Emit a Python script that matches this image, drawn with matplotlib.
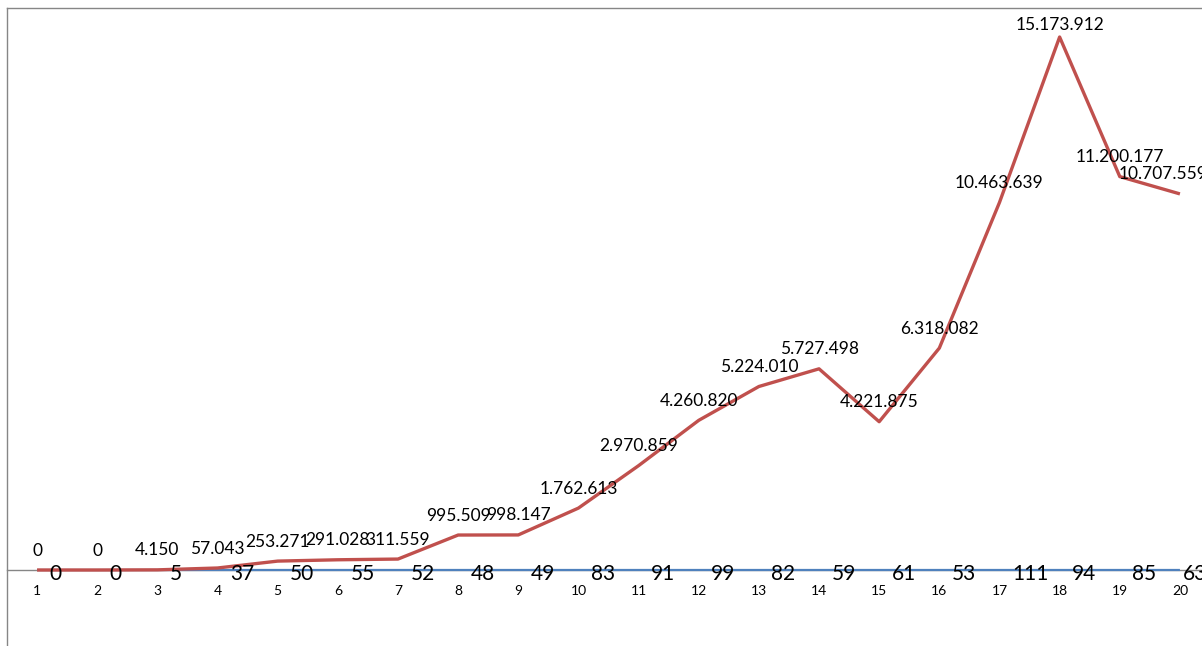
import matplotlib
matplotlib.use("Agg")
import matplotlib.pyplot as plt

# categories and the two series
CATS = list(range(1, 21))
RED = [0, 0, 4150, 57043, 253271, 291028, 311559, 995509, 998147, 1762613,
       2970859, 4260820, 5224010, 5727498, 4221875, 6318082, 10463639,
       15173912, 11200177, 10707559]
BLUE = [0, 0, 5, 37, 50, 55, 52, 48, 49, 83, 91, 99, 82, 59, 61, 53, 111,
        94, 85, 63]

RED_C = "#C0504D"
BLUE_C = "#4F81BD"
GRAY = "#868686"
FONT = ["Lato", "DejaVu Sans"]


def fmt(v):
    return f"{v:,}".replace(",", ".")


W, H = 1202, 646
fig = plt.figure(figsize=(W / 100, H / 100), dpi=100)

# plot area runs past the right and bottom edges of the picture
y_top, y_bot = 16e6, -3e6
px_per_unit = 35.125 / 1e6
top_px = 8
bot_px = top_px + (y_top - y_bot) * px_per_unit
ax = fig.add_axes([7 / W, (H - bot_px) / H, 1203 / W, (bot_px - top_px) / H])
ax.set_xlim(0.5, 20.5)
ax.set_ylim(y_bot, y_top)

for s in ["left", "top"]:
    ax.spines[s].set_color(GRAY)
    ax.spines[s].set_linewidth(1.0)
ax.spines["right"].set_visible(False)
ax.spines["bottom"].set_position(("data", 0))
ax.spines["bottom"].set_color(GRAY)
ax.spines["bottom"].set_linewidth(1.0)

ax.set_yticks([])
ax.set_xticks(CATS)
ax.set_xticklabels([str(c) for c in CATS], fontsize=10, family=FONT)
ax.tick_params(axis="x", length=0, pad=11, colors="black")

ax.plot(CATS, BLUE, color=BLUE_C, lw=1.6, zorder=3, solid_capstyle="butt")
ax.plot(CATS, RED, color=RED_C, lw=2.4, zorder=4, solid_capstyle="butt")

peak = RED.index(max(RED))
last = len(CATS) - 1
for i, (x, v) in enumerate(zip(CATS, RED)):
    dy = 9 if i == peak else 14
    if i == last:
        # kept inside the chart area, like the original
        ax.annotate(fmt(v), (x, v), xytext=(20, dy), textcoords="offset points",
                    ha="right", va="center", fontsize=12.5, family=FONT,
                    color="black", zorder=6)
    else:
        ax.annotate(fmt(v), (x, v), xytext=(0, dy), textcoords="offset points",
                    ha="center", va="center", fontsize=12.5, family=FONT,
                    color="black", zorder=6)

for i, (x, v) in enumerate(zip(CATS, BLUE)):
    if i == last:
        ax.annotate(fmt(v), (x, v), xytext=(19.5, -3), textcoords="offset points",
                    ha="right", va="center", fontsize=15, family=FONT,
                    color="black", zorder=6)
    else:
        ax.annotate(fmt(v), (x, v), xytext=(9, -3), textcoords="offset points",
                    ha="left", va="center", fontsize=15, family=FONT,
                    color="black", zorder=6)

fig.savefig("out.png", dpi=100, facecolor="white")
